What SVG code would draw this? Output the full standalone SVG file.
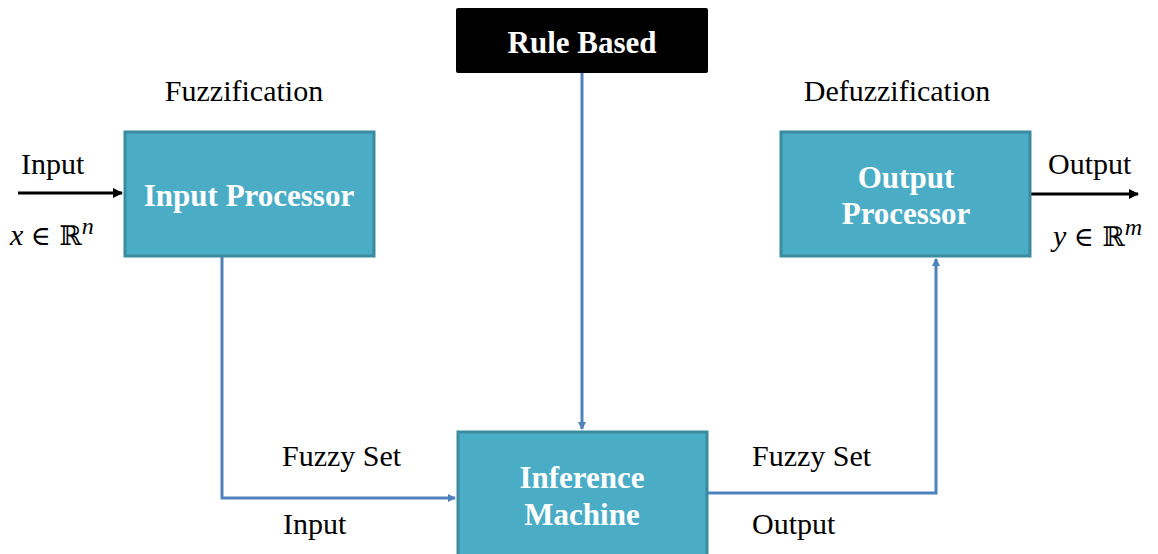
<svg xmlns="http://www.w3.org/2000/svg" width="1158" height="554" viewBox="0 0 1158 554">
<defs>
<style>
.box{fill:#4BACC6;stroke:#3B8BA0;stroke-width:3}
.bt{font-family:"Liberation Serif",serif;font-weight:bold;font-size:31px;fill:#fff;text-anchor:middle}
.lt{font-family:"Liberation Serif",serif;font-size:30px;fill:#000}
.mt{font-family:"Liberation Serif",serif;font-size:30px;font-style:italic;fill:#000}
.con{fill:none;stroke:#4F81BD;stroke-width:3}
.blk{fill:none;stroke:#000;stroke-width:3}
</style>
<marker id="ab" markerWidth="8" markerHeight="8" refX="7" refY="4" orient="auto" markerUnits="userSpaceOnUse" viewBox="0 0 8 8"><path d="M0,0 L8,4 L0,8 Z" fill="#4F81BD"/></marker>
<marker id="ak" markerWidth="10" markerHeight="10" refX="9" refY="5" orient="auto" markerUnits="userSpaceOnUse" viewBox="0 0 10 10"><path d="M0,0 L10,5 L0,10 Z" fill="#000"/></marker>
</defs>
<rect width="1158" height="554" fill="#fff"/>
<g id="connectors">
<path class="con" d="M222,257 V498 H455" marker-end="url(#ab)"/>
<path class="con" d="M582,73 V429" marker-end="url(#ab)"/>
<path class="con" d="M708,493 H936 V259" marker-end="url(#ab)"/>
<path class="blk" d="M18,193 H122" marker-end="url(#ak)"/>
<path class="blk" d="M1031,194 H1138" marker-end="url(#ak)"/>
</g>
<g id="rule-based">
<rect x="456" y="8" width="252" height="65" rx="2" fill="#000"/>
<text class="bt" x="582" y="53">Rule Based</text>
</g>
<g id="input-processor">
<rect class="box" x="125" y="132" width="249" height="124"/>
<text class="bt" x="249" y="206">Input Processor</text>
</g>
<g id="output-processor">
<rect class="box" x="781" y="132" width="249" height="124"/>
<text class="bt" x="906" y="188">Output</text>
<text class="bt" x="906" y="224">Processor</text>
</g>
<g id="inference-machine">
<rect class="box" x="458" y="432" width="249" height="126"/>
<text class="bt" x="582" y="488">Inference</text>
<text class="bt" x="582" y="525">Machine</text>
</g>
<g id="labels">
<text class="lt" x="244" y="101" text-anchor="middle">Fuzzification</text>
<text class="lt" x="897" y="101" text-anchor="middle">Defuzzification</text>
<text class="lt" x="21" y="174">Input</text>
<text class="mt" x="10" y="245">x <tspan font-style="normal" font-family="DejaVu Serif" font-size="27">∈ ℝ</tspan><tspan dy="-11" font-size="24">n</tspan></text>
<text class="lt" x="1048" y="174">Output</text>
<text class="mt" x="1053" y="246">y <tspan font-style="normal" font-family="DejaVu Serif" font-size="27">∈ ℝ</tspan><tspan dy="-11" font-size="24">m</tspan></text>
<text class="lt" x="282" y="466">Fuzzy Set</text>
<text class="lt" x="283" y="534">Input</text>
<text class="lt" x="752" y="466">Fuzzy Set</text>
<text class="lt" x="752" y="534">Output</text>
</g>
</svg>
